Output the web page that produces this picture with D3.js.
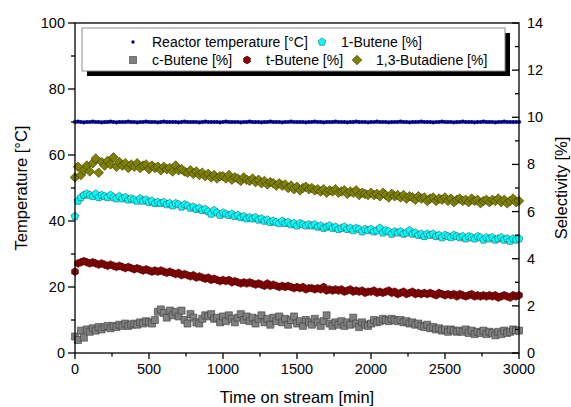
<!DOCTYPE html>
<html>
<head>
<meta charset="utf-8">
<script src="https://cdn.jsdelivr.net/npm/d3@7"></script>
<style>
  html, body { margin: 0; padding: 0; background: #fff; }
  svg { display: block; font-family: "Liberation Sans", Arial, sans-serif; }
</style>
</head>
<body>
<div id="chart"></div>
<script>
// ---- data (sampled every 20 min) ----
const timeMin = d3.range(0, 3001, 20);

const reactorTemp = [
  70.0, 70.1, 70.0, 69.9, 70.0, 70.0, 70.1, 70.0, 70.0, 69.9,
  70.0, 70.0, 70.1, 70.0, 69.9, 70.0, 70.0, 70.0, 70.1, 70.0,
  70.0, 69.9, 70.0, 70.0, 70.1, 70.0, 70.0, 70.0, 69.9, 70.0,
  70.1, 70.0, 70.0, 70.0, 70.0, 69.9, 70.0, 70.1, 70.0, 70.0,
  70.0, 70.0, 69.9, 70.0, 70.1, 70.0, 70.0, 70.0, 70.0, 69.9,
  70.0, 70.1, 70.0, 70.0, 70.0, 70.0, 69.9, 70.0, 70.0, 70.1,
  70.0, 70.0, 70.0, 69.9, 70.0, 70.0, 70.1, 70.0, 70.0, 70.0,
  69.9, 70.0, 70.0, 70.1, 70.0, 70.0, 70.0, 70.0, 69.9, 70.0,
  70.0, 70.1, 70.0, 70.0, 69.9, 70.0, 70.0, 70.0, 70.1, 70.0,
  70.0, 70.0, 69.9, 70.0, 70.0, 70.1, 70.0, 70.0, 70.0, 69.9,
  70.0, 70.0, 70.1, 70.0, 70.0, 70.0, 69.9, 70.0, 70.0, 70.0,
  70.1, 70.0, 70.0, 69.9, 70.0, 70.0, 70.0, 70.1, 70.0, 70.0,
  70.0, 69.9, 70.0, 70.0, 70.1, 70.0, 70.0, 70.0, 69.9, 70.0,
  70.0, 70.1, 70.0, 70.0, 70.0, 69.9, 70.0, 70.0, 70.1, 70.0,
  70.0, 70.0, 69.9, 70.0, 70.0, 70.1, 70.0, 70.0, 70.0, 70.0,
  70.0
];

const butene1 = [
  5.80, 6.45, 6.60, 6.70, 6.75, 6.70, 6.65, 6.75, 6.60, 6.70,
  6.65, 6.60, 6.70, 6.60, 6.55, 6.65, 6.55, 6.60, 6.50, 6.55,
  6.50, 6.45, 6.55, 6.45, 6.50, 6.40, 6.45, 6.35, 6.40, 6.35,
  6.40, 6.30, 6.35, 6.25, 6.35, 6.30, 6.20, 6.30, 6.25, 6.15,
  6.20, 6.10, 6.15, 6.05, 6.10, 6.00, 5.90, 6.05, 5.95, 5.85,
  5.95, 5.90, 5.85, 5.90, 5.80, 5.85, 5.75, 5.80, 5.70, 5.75,
  5.70, 5.75, 5.65, 5.70, 5.60, 5.65, 5.55, 5.60, 5.55, 5.50,
  5.60, 5.50, 5.55, 5.45, 5.50, 5.40, 5.50, 5.45, 5.40, 5.45,
  5.40, 5.45, 5.35, 5.40, 5.30, 5.35, 5.40, 5.30, 5.35, 5.25,
  5.30, 5.35, 5.25, 5.30, 5.20, 5.30, 5.25, 5.15, 5.25, 5.20,
  5.25, 5.15, 5.20, 5.30, 5.10, 5.20, 5.15, 5.05, 5.15, 5.10,
  5.15, 5.05, 5.10, 5.20, 5.05, 5.10, 5.00, 5.05, 4.95, 5.05,
  5.00, 5.05, 4.95, 5.00, 4.90, 5.00, 4.95, 4.90, 5.00, 4.95,
  4.90, 4.95, 4.85, 4.95, 4.90, 4.85, 4.95, 4.90, 4.80, 4.90,
  4.85, 4.90, 4.80, 4.85, 4.90, 4.80, 4.85, 4.75, 4.85, 4.80,
  4.85
];

const cButene = [
  0.70, 0.55, 0.95, 0.65, 1.00, 0.90, 1.05, 0.95, 1.10, 1.00,
  1.10, 1.15, 1.05, 1.15, 1.10, 1.20, 1.15, 1.25, 1.15, 1.20,
  1.25, 1.20, 1.30, 1.25, 1.35, 1.30, 1.25, 1.40, 1.75, 1.85,
  1.70, 1.50, 1.80, 1.60, 1.75, 1.55, 1.80, 1.40, 1.25, 1.65,
  1.50, 1.30, 1.25, 1.45, 1.60, 1.55, 1.65, 1.45, 1.50, 1.30,
  1.55, 1.35, 1.60, 1.45, 1.30, 1.50, 1.65, 1.40, 1.55, 1.35,
  1.50, 1.25, 1.45, 1.60, 1.30, 1.45, 1.20, 1.50, 1.35, 1.55,
  1.30, 1.45, 1.20, 1.40, 1.55, 1.25, 1.35, 1.15, 1.40, 1.30,
  1.20, 1.45, 1.30, 1.15, 1.35, 1.60, 1.25, 1.15, 1.30, 1.20,
  1.35, 1.15, 1.30, 1.20, 1.50, 1.25, 1.10, 1.30, 1.20, 1.15,
  1.25, 1.40, 1.30, 1.35, 1.45, 1.40, 1.35, 1.45, 1.40, 1.35,
  1.40, 1.30, 1.35, 1.25, 1.30, 1.20, 1.25, 1.15, 1.10, 1.20,
  1.05, 1.10, 1.00, 1.05, 0.95, 1.00, 0.90, 1.00, 0.95, 0.90,
  0.95, 0.90, 1.00, 0.85, 0.95, 0.80, 0.90, 0.85, 0.95, 0.80,
  0.90, 0.85, 0.75, 0.90, 0.80, 0.95, 0.85, 0.90, 1.00, 0.95,
  0.95
];

const tButene = [
  3.45, 3.80, 3.85, 3.90, 3.85, 3.80, 3.85, 3.80, 3.75, 3.80,
  3.75, 3.70, 3.75, 3.70, 3.65, 3.70, 3.65, 3.60, 3.65, 3.60,
  3.55, 3.60, 3.55, 3.50, 3.55, 3.50, 3.45, 3.50, 3.45, 3.50,
  3.45, 3.40, 3.45, 3.40, 3.35, 3.40, 3.30, 3.35, 3.30, 3.25,
  3.30, 3.20, 3.25, 3.20, 3.15, 3.20, 3.10, 3.15, 3.10, 3.05,
  3.10, 3.05, 3.10, 3.00, 3.05, 3.00, 2.95, 3.00, 2.95, 3.00,
  2.95, 2.90, 2.95, 2.90, 2.85, 2.95, 2.85, 2.90, 2.85, 2.80,
  2.85, 2.80, 2.85, 2.80, 2.75, 2.80, 2.75, 2.80, 2.70, 2.75,
  2.75, 2.70, 2.75, 2.70, 2.80, 2.65, 2.70, 2.65, 2.70, 2.65,
  2.70, 2.60, 2.65, 2.70, 2.60, 2.65, 2.60, 2.65, 2.55, 2.60,
  2.60, 2.65, 2.55, 2.60, 2.55, 2.60, 2.65, 2.55, 2.60, 2.50,
  2.55, 2.60, 2.50, 2.55, 2.60, 2.50, 2.55, 2.50, 2.55, 2.50,
  2.55, 2.50, 2.45, 2.55, 2.50, 2.45, 2.50, 2.45, 2.50, 2.40,
  2.50, 2.45, 2.40, 2.45, 2.50, 2.40, 2.45, 2.40, 2.45, 2.40,
  2.45, 2.40, 2.45, 2.35, 2.40, 2.45, 2.40, 2.35, 2.45, 2.40,
  2.45
];

const butadiene = [
  7.45, 7.90, 7.55, 7.75, 7.95, 7.70, 8.05, 8.25, 7.65, 8.10,
  7.95, 8.15, 8.00, 8.30, 7.90, 8.10, 7.95, 8.05, 7.85, 8.00,
  7.90, 8.05, 7.85, 7.95, 8.00, 7.80, 7.95, 7.85, 7.90, 7.75,
  7.90, 7.80, 7.85, 7.70, 7.95, 7.75, 7.80, 7.70, 7.65, 7.75,
  7.60, 7.70, 7.55, 7.65, 7.50, 7.60, 7.45, 7.55, 7.40, 7.50,
  7.50, 7.40, 7.55, 7.35, 7.45, 7.40, 7.30, 7.45, 7.35, 7.30,
  7.40, 7.25, 7.35, 7.20, 7.30, 7.15, 7.25, 7.20, 7.10, 7.20,
  7.10, 7.15, 7.00, 7.10, 6.95, 7.05, 6.90, 7.00, 7.05, 6.95,
  7.00, 6.90, 6.95, 6.85, 6.95, 6.80, 6.90, 6.85, 6.95, 6.80,
  6.85, 6.90, 6.75, 6.85, 6.80, 6.90, 6.70, 6.80, 6.75, 6.70,
  6.80, 6.70, 6.75, 6.65, 6.80, 6.70, 6.60, 6.75, 6.65, 6.70,
  6.60, 6.70, 6.55, 6.65, 6.60, 6.50, 6.65, 6.55, 6.60, 6.45,
  6.55, 6.60, 6.45, 6.55, 6.50, 6.60, 6.45, 6.55, 6.40, 6.50,
  6.55, 6.45, 6.50, 6.40, 6.55, 6.45, 6.50, 6.35, 6.45, 6.50,
  6.40, 6.50, 6.45, 6.55, 6.40, 6.50, 6.35, 6.45, 6.55, 6.40,
  6.45
];

const xTicks = [0, 500, 1000, 1500, 2000, 2500, 3000];
const leftTicks = [0, 20, 40, 60, 80, 100];
const rightTicks = [0, 2, 4, 6, 8, 10, 12, 14];

// ---- layout ----
const W = 571, H = 407;
const plot = { left: 75, right: 519, top: 23, bottom: 353 };

const svg = d3.select('#chart').append('svg')
  .attr('width', W).attr('height', H).attr('viewBox', `0 0 ${W} ${H}`);

const x = d3.scaleLinear().domain([0, 3000]).range([plot.left, plot.right]);
const yT = d3.scaleLinear().domain([0, 100]).range([plot.bottom, plot.top]);
const yS = d3.scaleLinear().domain([0, 14]).range([plot.bottom, plot.top]);

// marker shapes
function polygon(n, r, rot) {
  const pts = d3.range(n).map(i => {
    const a = rot + i * 2 * Math.PI / n;
    return [r * Math.cos(a), r * Math.sin(a)];
  });
  return 'M' + pts.map(p => p.join(',')).join('L') + 'Z';
}
const SHAPES = {
  dot: 'M-2.1,0A2.1,2.1 0 1,0 2.1,0A2.1,2.1 0 1,0 -2.1,0Z',
  pentagon: polygon(5, 4.1, -Math.PI / 2),
  hexagon: polygon(6, 3.9, -Math.PI / 2),
  square: 'M-3.5,-3.5L3.5,-3.5L3.5,3.5L-3.5,3.5Z',
  diamond: 'M0,-4.8L4.8,0L0,4.8L-4.8,0Z'
};

const series = [
  { name: 'c-Butene [%]', values: cButene, y: yS, shape: 'square', fill: '#808080', stroke: '#3a3a3a' },
  { name: 't-Butene [%]', values: tButene, y: yS, shape: 'hexagon', fill: '#8b0000', stroke: '#3a0000' },
  { name: '1-Butene [%]', values: butene1, y: yS, shape: 'pentagon', fill: '#00ffff', stroke: '#2a5a5a' },
  { name: '1,3-Butadiene [%]', values: butadiene, y: yS, shape: 'diamond', fill: '#808000', stroke: '#333300' },
  { name: 'Reactor temperature [°C]', values: reactorTemp, y: yT, shape: 'dot', fill: '#00008b', stroke: 'none' }
];
const byName = Object.fromEntries(series.map(s => [s.name, s]));

const dataLayer = svg.append('g').attr('class', 'data-layer');
series.forEach(s => {
  dataLayer.append('g')
    .selectAll('path')
    .data(s.values.map((v, i) => [timeMin[i], v]))
    .join('path')
    .attr('d', SHAPES[s.shape])
    .attr('transform', d => `translate(${x(d[0])},${s.y(d[1])})`)
    .attr('fill', s.fill)
    .attr('stroke', s.stroke)
    .attr('stroke-width', 0.6);
});

// ---- frame & axes ----
const axisLayer = svg.append('g').attr('stroke', '#000').attr('stroke-width', 1.3).attr('fill', 'none');
axisLayer.append('rect')
  .attr('x', plot.left).attr('y', plot.top)
  .attr('width', plot.right - plot.left).attr('height', plot.bottom - plot.top);

// bottom ticks (outward)
d3.range(0, 3001, 250).forEach(t => {
  const major = t % 500 === 0;
  axisLayer.append('line')
    .attr('x1', x(t)).attr('x2', x(t))
    .attr('y1', plot.bottom).attr('y2', plot.bottom + (major ? 6 : 3.5));
});
// left ticks (outward)
d3.range(0, 101, 10).forEach(v => {
  const major = v % 20 === 0;
  axisLayer.append('line')
    .attr('x1', plot.left).attr('x2', plot.left - (major ? 7 : 4))
    .attr('y1', yT(v)).attr('y2', yT(v));
});
// right ticks (inward)
d3.range(0, 15, 1).forEach(v => {
  const major = v % 2 === 0;
  axisLayer.append('line')
    .attr('x1', plot.right).attr('x2', plot.right - (major ? 7 : 4))
    .attr('y1', yS(v)).attr('y2', yS(v));
});

const labels = svg.append('g').attr('fill', '#000');
labels.selectAll('.xt').data(xTicks).join('text')
  .attr('x', d => x(d)).attr('y', plot.bottom + 21)
  .attr('text-anchor', 'middle').attr('font-size', 14.5).text(d => d);
labels.selectAll('.lt').data(leftTicks).join('text')
  .attr('x', plot.left - 10).attr('y', d => yT(d) + 5)
  .attr('text-anchor', 'end').attr('font-size', 14.5).text(d => d);
labels.selectAll('.rt').data(rightTicks).join('text')
  .attr('x', plot.right + 8).attr('y', d => yS(d) + 5)
  .attr('text-anchor', 'start').attr('font-size', 14.5).text(d => d);

labels.append('text')
  .attr('x', (plot.left + plot.right) / 2).attr('y', 403)
  .attr('text-anchor', 'middle').attr('font-size', 16.5)
  .text('Time on stream [min]');
labels.append('text')
  .attr('transform', `translate(27,${(plot.top + plot.bottom) / 2}) rotate(-90)`)
  .attr('text-anchor', 'middle').attr('font-size', 16.5)
  .text('Temperature [°C]');
labels.append('text')
  .attr('transform', `translate(567,${(plot.top + plot.bottom) / 2}) rotate(-90)`)
  .attr('text-anchor', 'middle').attr('font-size', 16.5)
  .text('Selectivity [%]');

// ---- legend ----
const legend = svg.append('g');
const box = { x: 82, y: 28, w: 423, h: 43 };
legend.append('rect')
  .attr('x', box.x + 5).attr('y', box.y + 5).attr('width', box.w).attr('height', box.h)
  .attr('fill', '#000');
legend.append('rect')
  .attr('x', box.x).attr('y', box.y).attr('width', box.w).attr('height', box.h)
  .attr('fill', '#fff').attr('stroke', '#8c8c8c').attr('stroke-width', 1);

const legendItems = [
  { name: 'Reactor temperature [°C]', sx: 133, row: 0 },
  { name: '1-Butene [%]', sx: 322, row: 0 },
  { name: 'c-Butene [%]', sx: 133, row: 1 },
  { name: 't-Butene [%]', sx: 247, row: 1 },
  { name: '1,3-Butadiene [%]', sx: 357, row: 1 }
];
const rowY = [42, 60];
const legendShape = { dot: 'M-1.7,0A1.7,1.7 0 1,0 1.7,0A1.7,1.7 0 1,0 -1.7,0Z' };
legendItems.forEach(item => {
  const s = byName[item.name];
  const cy = rowY[item.row];
  legend.append('path')
    .attr('d', legendShape[s.shape] || SHAPES[s.shape])
    .attr('transform', `translate(${item.sx},${cy})`)
    .attr('fill', s.fill).attr('stroke', s.stroke).attr('stroke-width', 0.6);
  legend.append('text')
    .attr('x', item.sx + 19).attr('y', cy + 5)
    .attr('font-size', 14).text(item.name);
});
</script>
</body>
</html>
